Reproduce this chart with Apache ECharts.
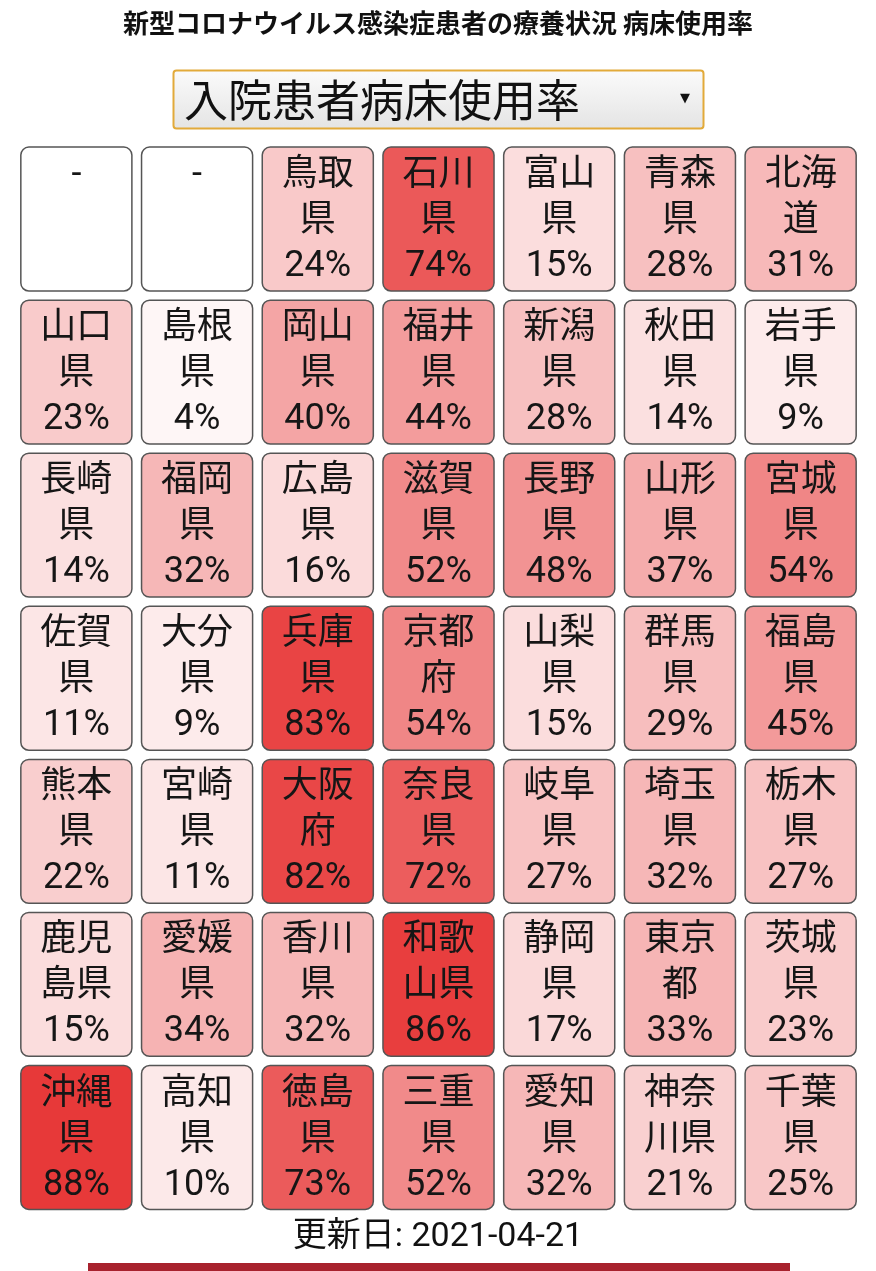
<!DOCTYPE html>
<html>
<head>
<meta charset="utf-8">
<script src="https://cdn.jsdelivr.net/npm/echarts@6/dist/echarts.min.js"></script>
<style>
html,body{margin:0;padding:0;background:#fff;}
#main{width:876px;height:1271px;}
</style>
</head>
<body>
<div id="main"></div>
<script>
// Tile grid, 7 columns x 7 rows, read left-to-right, top-to-bottom
const colCats = ['c1','c2','c3','c4','c5','c6','c7'];
const rowCats = ['r1','r2','r3','r4','r5','r6','r7'];
const prefectures = [
  '-','-','鳥取県','石川県','富山県','青森県','北海道',
  '山口県','島根県','岡山県','福井県','新潟県','秋田県','岩手県',
  '長崎県','福岡県','広島県','滋賀県','長野県','山形県','宮城県',
  '佐賀県','大分県','兵庫県','京都府','山梨県','群馬県','福島県',
  '熊本県','宮崎県','大阪府','奈良県','岐阜県','埼玉県','栃木県',
  '鹿児島県','愛媛県','香川県','和歌山県','静岡県','東京都','茨城県',
  '沖縄県','高知県','徳島県','三重県','愛知県','神奈川県','千葉県'
];
const usageRate = [
  null,null,24,74,15,28,31,
  23,4,40,44,28,14,9,
  14,32,16,52,48,37,54,
  11,9,83,54,15,29,45,
  22,11,82,72,27,32,27,
  15,34,32,86,17,33,23,
  88,10,73,52,32,21,25
];
const titleText = '新型コロナウイルス感染症患者の療養状況 病床使用率';
const selectText = '入院患者病床使用率';
const updatedText = '更新日: 2021-04-21';

const data = prefectures.map((p, i) => [i % 7, Math.floor(i / 7), usageRate[i] == null ? -1 : usageRate[i]]);

const FONT = "Roboto, 'Noto Sans CJK JP', sans-serif";

const chart = echarts.init(document.getElementById('main'), null, {renderer: 'canvas'});
chart.setOption({
  backgroundColor: '#ffffff',
  animation: false,
  grid: {left: 16, right: 15, top: 142.5, bottom: 57},
  xAxis: {type: 'category', data: colCats, show: false},
  yAxis: {type: 'category', data: rowCats, inverse: true, show: false},
  visualMap: {
    show: false, min: 0, max: 100, dimension: 2, seriesIndex: 0,
    inRange: {color: ['#ffffff', '#e41e1e']},
    outOfRange: {color: '#ffffff'}
  },
  graphic: [
    {type: 'text', x: 438, y: 23,
     style: {text: titleText, font: "bold 26px 'Noto Sans CJK JP', sans-serif", fill: '#111',
             align: 'center', verticalAlign: 'middle'}},
    {type: 'rect', shape: {x: 173.5, y: 70.5, width: 530, height: 58, r: 3},
     style: {
       fill: {type: 'linear', x: 0, y: 0, x2: 0, y2: 1,
              colorStops: [{offset: 0, color: '#fbfbfb'}, {offset: 1, color: '#e4e4e4'}]},
       stroke: '#e2aa3a', lineWidth: 2}},
    {type: 'text', x: 184, y: 100,
     style: {text: selectText, font: "44px 'Noto Sans CJK JP', sans-serif", fill: '#111', verticalAlign: 'middle'}},
    {type: 'text', x: 685, y: 99,
     style: {text: '▼', font: "13px 'DejaVu Sans', sans-serif", fill: '#111', align: 'center', verticalAlign: 'middle'}},
    {type: 'text', x: 438, y: 1237,
     style: {text: updatedText, font: "34px Roboto, 'Noto Sans CJK JP', sans-serif", fill: '#111',
             align: 'center', verticalAlign: 'middle'}},
    {type: 'rect', shape: {x: 88, y: 1263, width: 702, height: 8},
     style: {fill: '#a8222e'}}
  ],
  series: [{
    type: 'custom',
    coordinateSystem: 'cartesian2d',
    data: data,
    encode: {x: 0, y: 1},
    renderItem: function (params, api) {
      const c = api.coord([api.value(0), api.value(1)]);
      const sz = api.size([1, 1]);
      const w = sz[0] * 0.92, h = sz[1] * 0.94;
      const x0 = c[0] - w / 2, y0 = c[1] - h / 2;
      const idx = params.dataIndex;
      const name = prefectures[idx];
      const v = usageRate[idx];
      const fill = v == null ? '#ffffff' : api.visual('color');
      const children = [{
        type: 'rect',
        shape: {x: x0, y: y0, width: w, height: h, r: 8},
        style: {fill: fill, stroke: '#555555', lineWidth: 1.5}
      }];
      const ts = (t, dy) => ({
        type: 'text',
        style: {text: t, x: c[0], y: y0 + dy, align: 'center', verticalAlign: 'middle',
                font: '36px ' + FONT, fill: '#161616'}
      });
      if (v == null) {
        children.push(ts('-', 29));
      } else {
        children.push(ts(name.slice(0, 2), 29));
        children.push(ts(name.slice(2), 75));
        children.push(ts(v + '%', 120));
      }
      return {type: 'group', children: children};
    }
  }]
});
</script>
</body>
</html>
